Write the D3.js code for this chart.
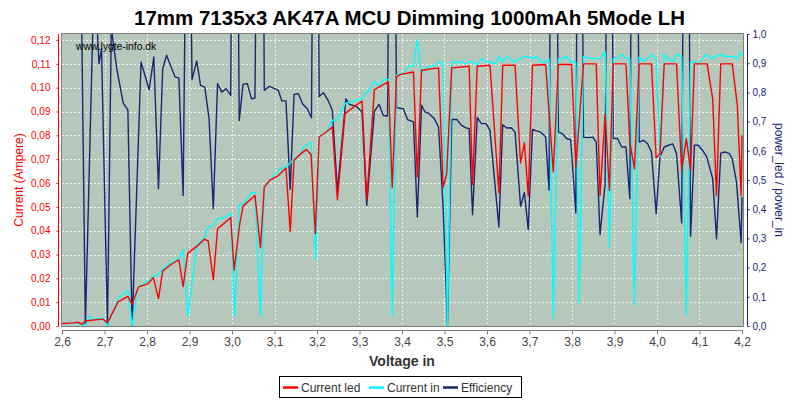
<!DOCTYPE html>
<html>
<head>
<meta charset="utf-8">
<script src="https://cdn.jsdelivr.net/npm/d3@7"></script>
<style>
  html, body { margin: 0; padding: 0; background: #ffffff; }
  svg { display: block; }
  text { font-family: "Liberation Sans", Arial, sans-serif; }
</style>
</head>
<body>
<svg id="chart" width="800" height="400"></svg>
<script>
// ---------------- data ----------------
const title = "17mm 7135x3 AK47A MCU Dimming 1000mAh 5Mode LH";
const xTicks = [2.6, 2.7, 2.8, 2.9, 3.0, 3.1, 3.2, 3.3, 3.4, 3.5, 3.6, 3.7, 3.8, 3.9, 4.0, 4.1, 4.2];
const leftTicks = [0, 0.01, 0.02, 0.03, 0.04, 0.05, 0.06, 0.07, 0.08, 0.09, 0.10, 0.11, 0.12];
const rightTicks = [0, 0.1, 0.2, 0.3, 0.4, 0.5, 0.6, 0.7, 0.8, 0.9, 1.0];
const seriesNames = ["Current led", "Current in", "Efficiency"];

// Current led (A)
const ledV = [
  2.600, 2.626, 2.638, 2.647, 2.655, 2.669, 2.696, 2.707, 2.732, 2.755,
  2.765, 2.780, 2.803, 2.815, 2.827, 2.837, 2.854, 2.875, 2.885, 2.896,
  2.917, 2.935, 2.944, 2.956, 2.966, 2.985, 2.997, 3.005, 3.018, 3.026,
  3.054, 3.067, 3.076, 3.089, 3.109, 3.127, 3.137, 3.146, 3.160, 3.175,
  3.186, 3.196, 3.205, 3.222, 3.236, 3.248, 3.266, 3.281, 3.306, 3.317,
  3.335, 3.368, 3.377, 3.387, 3.395, 3.427, 3.436, 3.446, 3.486, 3.497,
  3.505, 3.517, 3.558, 3.566, 3.577, 3.607, 3.628, 3.637, 3.666, 3.679,
  3.688, 3.697, 3.707, 3.738, 3.756, 3.768, 3.799, 3.809, 3.827, 3.857,
  3.866, 3.878, 3.888, 3.897, 3.927, 3.936, 3.947, 3.958, 3.987, 3.998,
  4.007, 4.017, 4.046, 4.058, 4.069, 4.079, 4.088, 4.118, 4.131, 4.140,
  4.150, 4.177, 4.189, 4.198, 4.200
];
const ledI = [
  0.0010, 0.0013, 0.0016, 0.0007, 0.0021, 0.0024, 0.0029, 0.0014, 0.0101, 0.0124,
  0.0091, 0.0164, 0.0178, 0.0203, 0.0115, 0.0231, 0.0255, 0.0278, 0.0166, 0.0306,
  0.0334, 0.0364, 0.0357, 0.0194, 0.0408, 0.0436, 0.0455, 0.0234, 0.0425, 0.0503,
  0.0548, 0.0329, 0.0583, 0.0611, 0.0631, 0.0663, 0.0397, 0.0695, 0.0720, 0.0741,
  0.0720, 0.0387, 0.0793, 0.0814, 0.0835, 0.0530, 0.0891, 0.0912, 0.0944, 0.0530,
  0.0992, 0.1024, 0.0580, 0.1045, 0.1055, 0.1066, 0.0625, 0.1073, 0.1083, 0.0583,
  0.0636, 0.1083, 0.1090, 0.0594, 0.1090, 0.1094, 0.0558, 0.1094, 0.1094, 0.0684,
  0.0769, 0.0545, 0.1094, 0.1097, 0.0646, 0.1097, 0.1097, 0.0667, 0.1100, 0.1100,
  0.0548, 0.0888, 0.0570, 0.1100, 0.1100, 0.0772, 0.0660, 0.1100, 0.1100, 0.0706,
  0.0723, 0.1100, 0.1100, 0.0653, 0.0786, 0.0653, 0.1100, 0.1100, 0.0953, 0.0548,
  0.1100, 0.1100, 0.0926, 0.0548, 0.0800
];

// Current in (A)
const inV = [
  2.600, 2.626, 2.647, 2.655, 2.665, 2.673, 2.696, 2.707, 2.732, 2.755,
  2.765, 2.778, 2.803, 2.815, 2.827, 2.837, 2.854, 2.875, 2.885, 2.896,
  2.917, 2.935, 2.944, 2.956, 2.966, 2.975, 2.985, 2.997, 3.006, 3.017,
  3.026, 3.046, 3.054, 3.067, 3.076, 3.089, 3.113, 3.127, 3.137, 3.146,
  3.160, 3.168, 3.186, 3.197, 3.205, 3.222, 3.236, 3.246, 3.266, 3.285,
  3.306, 3.317, 3.324, 3.335, 3.346, 3.356, 3.368, 3.377, 3.387, 3.403,
  3.415, 3.427, 3.436, 3.445, 3.454, 3.466, 3.476, 3.486, 3.496, 3.507,
  3.517, 3.540, 3.548, 3.558, 3.568, 3.577, 3.588, 3.598, 3.607, 3.619,
  3.628, 3.637, 3.646, 3.658, 3.666, 3.678, 3.688, 3.697, 3.707, 3.717,
  3.726, 3.738, 3.746, 3.756, 3.768, 3.777, 3.787, 3.797, 3.809, 3.817,
  3.827, 3.838, 3.849, 3.866, 3.878, 3.888, 3.897, 3.907, 3.917, 3.927,
  3.936, 3.947, 3.958, 3.968, 3.978, 3.987, 3.998, 4.007, 4.017, 4.027,
  4.037, 4.046, 4.058, 4.069, 4.079, 4.088, 4.097, 4.107, 4.117, 4.129,
  4.139, 4.150, 4.160, 4.170, 4.180, 4.189, 4.197, 4.200
];
const inI = [
  0.0010, 0.0013, 0.0007, 0.0002, 0.0042, 0.0028, 0.0035, 0.0000, 0.0115, 0.0150,
  0.0000, 0.0162, 0.0189, 0.0206, 0.0218, 0.0238, 0.0262, 0.0283, 0.0320, 0.0040,
  0.0340, 0.0370, 0.0416, 0.0423, 0.0451, 0.0451, 0.0458, 0.0472, 0.0040, 0.0509,
  0.0509, 0.0560, 0.0560, 0.0040, 0.0583, 0.0611, 0.0660, 0.0667, 0.0685, 0.0700,
  0.0720, 0.0751, 0.0770, 0.0276, 0.0793, 0.0814, 0.0863, 0.0863, 0.0933, 0.0944,
  0.0954, 0.0982, 0.0990, 0.1028, 0.1006, 0.1034, 0.1034, 0.0040, 0.1052, 0.1059,
  0.1090, 0.1090, 0.1201, 0.1059, 0.1080, 0.1090, 0.1090, 0.1108, 0.1105, 0.0000,
  0.1108, 0.1108, 0.1100, 0.1108, 0.1108, 0.1094, 0.1122, 0.1108, 0.1108, 0.1100,
  0.1131, 0.1108, 0.1131, 0.1117, 0.1108, 0.1122, 0.1131, 0.1129, 0.1122, 0.1131,
  0.1108, 0.1108, 0.1122, 0.0031, 0.1122, 0.1122, 0.1131, 0.1108, 0.1108, 0.0097,
  0.1131, 0.1126, 0.1122, 0.1122, 0.1150, 0.0329, 0.1122, 0.1122, 0.1140, 0.1122,
  0.1122, 0.0087, 0.1129, 0.1112, 0.1122, 0.1138, 0.1122, 0.0709, 0.1140, 0.1122,
  0.1108, 0.1140, 0.1131, 0.0045, 0.1108, 0.1108, 0.1100, 0.1122, 0.1140, 0.1122,
  0.1131, 0.1140, 0.1131, 0.1131, 0.1131, 0.1122, 0.1150, 0.1136
];

// Efficiency (power_led / power_in)
const effV = [
  2.600, 2.640, 2.655, 2.673, 2.680, 2.687, 2.693, 2.707, 2.716, 2.729,
  2.744, 2.755, 2.765, 2.786, 2.805, 2.816, 2.827, 2.837, 2.846, 2.866,
  2.875, 2.885, 2.896, 2.906, 2.917, 2.926, 2.936, 2.946, 2.956, 2.966,
  2.976, 2.986, 2.997, 3.006, 3.017, 3.026, 3.036, 3.046, 3.054, 3.067,
  3.076, 3.088, 3.109, 3.117, 3.127, 3.137, 3.146, 3.156, 3.166, 3.177,
  3.187, 3.197, 3.205, 3.215, 3.226, 3.236, 3.248, 3.268, 3.276, 3.293,
  3.306, 3.317, 3.335, 3.346, 3.356, 3.366, 3.377, 3.387, 3.403, 3.413,
  3.427, 3.436, 3.446, 3.454, 3.464, 3.476, 3.486, 3.497, 3.507, 3.517,
  3.529, 3.540, 3.550, 3.558, 3.566, 3.577, 3.587, 3.598, 3.607, 3.628,
  3.637, 3.646, 3.657, 3.666, 3.679, 3.688, 3.697, 3.707, 3.717, 3.726,
  3.738, 3.746, 3.756, 3.768, 3.777, 3.787, 3.797, 3.809, 3.817, 3.827,
  3.838, 3.849, 3.857, 3.866, 3.878, 3.888, 3.897, 3.907, 3.917, 3.927,
  3.936, 3.947, 3.958, 3.968, 3.978, 3.987, 3.998, 4.007, 4.017, 4.027,
  4.037, 4.046, 4.058, 4.069, 4.079, 4.088, 4.097, 4.107, 4.117, 4.131,
  4.140, 4.150, 4.160, 4.170, 4.177, 4.187, 4.198, 4.200
];
const effE = [
  3.000, 1.800, 0.000, 1.050, 1.100, 0.898, 0.950, 0.000, 1.020, 0.880,
  0.764, 0.739, 0.000, 0.904, 0.809, 0.921, 0.470, 0.881, 0.927, 0.853,
  0.849, 0.447, 2.000, 0.844, 0.908, 0.824, 0.818, 0.710, 0.402, 0.830,
  0.801, 0.813, 0.790, 3.000, 0.704, 0.828, 0.830, 0.778, 0.781, 3.000,
  0.807, 0.821, 0.807, 0.771, 0.771, 0.468, 0.793, 0.796, 0.761, 0.744,
  0.713, 3.000, 0.786, 0.799, 0.773, 0.739, 0.462, 0.778, 0.759, 0.752,
  0.733, 0.413, 0.735, 0.759, 0.721, 0.719, 3.000, 0.748, 0.744, 0.707,
  0.699, 0.373, 0.756, 0.733, 0.727, 0.710, 0.682, 0.400, 0.000, 0.707,
  0.707, 0.687, 0.679, 0.676, 0.381, 0.714, 0.693, 0.693, 0.670, 0.339,
  0.689, 0.678, 0.679, 0.664, 0.410, 0.457, 0.331, 0.673, 0.668, 0.664,
  0.647, 0.465, 3.000, 0.664, 0.659, 0.642, 0.638, 0.387, 3.000, 0.647,
  0.645, 0.647, 0.630, 0.314, 0.487, 3.000, 0.642, 0.642, 0.613, 0.613,
  0.436, 3.000, 0.630, 0.636, 0.624, 0.596, 0.385, 0.579, 0.613, 0.619,
  0.624, 0.590, 0.353, 3.000, 0.307, 0.619, 0.619, 0.602, 0.579, 0.505,
  0.299, 0.592, 0.596, 0.590, 0.573, 0.493, 0.285, 0.442
];

// ---------------- layout ----------------
const W = 800, H = 400;
const plot = { left: 62, right: 743, top: 34, bottom: 326 };
const colors = { led: "#ff0000", inp: "#00ffff", eff: "#1b2670", plotBg: "#b6c8bc" };

const svg = d3.select("#chart");
svg.append("rect").attr("width", W).attr("height", H).attr("fill", "#ffffff");

const x = d3.scaleLinear().domain([2.6, 4.2]).range([plot.left, plot.right - 1]);
const yL = d3.scaleLinear().domain([0, 0.12252]).range([plot.bottom, plot.top]);
const yR = d3.scaleLinear().domain([0, 1.0]).range([plot.bottom, plot.top]);

const fmtComma = (d, n) => d.toFixed(n).replace(".", ",");

// plot background
svg.append("rect")
  .attr("x", plot.left).attr("y", plot.top)
  .attr("width", plot.right - plot.left).attr("height", plot.bottom - plot.top)
  .attr("fill", colors.plotBg);

// grid lines
const grid = svg.append("g").attr("stroke", "#ffffff").attr("stroke-opacity", 0.75)
  .attr("stroke-width", 1).attr("stroke-dasharray", "2,2");
grid.selectAll("line.v").data(xTicks.slice(1, -1)).join("line")
  .attr("x1", d => Math.round(x(d)) + 0.5).attr("x2", d => Math.round(x(d)) + 0.5)
  .attr("y1", plot.top).attr("y2", plot.bottom);
grid.selectAll("line.h").data(leftTicks.slice(1)).join("line")
  .attr("x1", plot.left).attr("x2", plot.right)
  .attr("y1", d => Math.round(yL(d)) + 0.5).attr("y2", d => Math.round(yL(d)) + 0.5);

// clip
svg.append("clipPath").attr("id", "clip").append("rect")
  .attr("x", plot.left).attr("y", plot.top)
  .attr("width", plot.right - plot.left).attr("height", plot.bottom - plot.top);

const g = svg.append("g").attr("clip-path", "url(#clip)");
const lineL = d3.line().x(d => x(d[0])).y(d => yL(d[1]));
const lineR = d3.line().x(d => x(d[0])).y(d => yR(d[1]));

const effData = effV.map((v, i) => [v, effE[i]]);
const inData = inV.map((v, i) => [v, inI[i]]);
const ledData = ledV.map((v, i) => [v, ledI[i]]);

g.append("path").datum(effData).attr("d", lineR)
  .attr("fill", "none").attr("stroke", colors.eff).attr("stroke-width", 1.4).attr("stroke-linejoin", "round");
g.append("path").datum(inData).attr("d", lineL)
  .attr("fill", "none").attr("stroke", colors.inp).attr("stroke-width", 1.4).attr("stroke-linejoin", "round");
g.append("path").datum(ledData).attr("d", lineL)
  .attr("fill", "none").attr("stroke", colors.led).attr("stroke-width", 1.4).attr("stroke-linejoin", "round");

// plot frame
svg.append("rect")
  .attr("x", plot.left - 0.5).attr("y", plot.top - 0.5)
  .attr("width", plot.right - plot.left + 1).attr("height", plot.bottom - plot.top + 1)
  .attr("fill", "none").attr("stroke", "#7f7f7f").attr("stroke-width", 1);

// watermark
svg.append("text").attr("x", 76).attr("y", 50).attr("font-size", 10.3)
  .attr("fill", "#000000").text("www.lygte-info.dk");

// bottom axis
const xAxis = d3.axisBottom(x).tickValues(xTicks).tickSize(4).tickPadding(3)
  .tickFormat(d => fmtComma(d, 1));
const gx = svg.append("g").attr("transform", `translate(0,${plot.bottom + 4.5})`).call(xAxis);
gx.select(".domain").attr("stroke", "#808080").attr("d", `M${plot.left},0H${plot.right}`);
gx.selectAll(".tick line").attr("stroke", "#808080");
gx.selectAll("text").attr("fill", "#444444").attr("font-size", 12)
  .attr("font-family", "'Liberation Sans', Arial, sans-serif");

// left axis
const yAxisL = d3.axisLeft(yL).tickValues(leftTicks).tickSize(2).tickPadding(6)
  .tickFormat(d => fmtComma(d, 2));
const gyl = svg.append("g").attr("transform", `translate(${plot.left - 3.5},0)`).call(yAxisL);
gyl.select(".domain").attr("stroke", colors.led).attr("d", `M0,${plot.top}V${plot.bottom}`);
gyl.selectAll(".tick line").attr("stroke", colors.led);
gyl.selectAll("text").attr("fill", colors.led).attr("font-size", 10)
  .attr("font-family", "'Liberation Sans', Arial, sans-serif");

// right axis
const yAxisR = d3.axisRight(yR).tickValues(rightTicks).tickSize(2).tickPadding(3)
  .tickFormat(d => fmtComma(d, 1));
const gyr = svg.append("g").attr("transform", `translate(${plot.right + 4.5},0)`).call(yAxisR);
gyr.select(".domain").attr("stroke", colors.eff).attr("d", `M0,${plot.top}V${plot.bottom}`);
gyr.selectAll(".tick line").attr("stroke", colors.eff);
gyr.selectAll("text").attr("fill", colors.eff).attr("font-size", 10)
  .attr("font-family", "'Liberation Sans', Arial, sans-serif");

// titles
svg.append("text").attr("x", 409.5).attr("y", 25).attr("text-anchor", "middle")
  .attr("font-size", 20.5).attr("font-weight", "bold").attr("fill", "#000000").text(title);

svg.append("text").attr("x", 402).attr("y", 366).attr("text-anchor", "middle")
  .attr("font-size", 14).attr("font-weight", "bold").attr("fill", "#333333").text("Voltage in");

svg.append("text").attr("transform", "translate(23,180) rotate(-90)").attr("text-anchor", "middle")
  .attr("font-size", 12).attr("fill", colors.led).text("Current (Ampere)");

svg.append("text").attr("transform", "translate(775,180) rotate(90)").attr("text-anchor", "middle")
  .attr("font-size", 12).attr("fill", colors.eff).text("power_led / power_in");

// legend
const legend = svg.append("g");
legend.append("rect").attr("x", 279.5).attr("y", 376.5).attr("width", 242).attr("height", 21)
  .attr("fill", "#ffffff").attr("stroke", "#000000").attr("stroke-width", 1);
const legendItems = [
  { name: seriesNames[0], color: colors.led, x: 283 },
  { name: seriesNames[1], color: colors.inp, x: 369 },
  { name: seriesNames[2], color: colors.eff, x: 443 }
];
const li = legend.selectAll("g.item").data(legendItems).join("g").attr("class", "item");
li.append("line").attr("x1", d => d.x).attr("x2", d => d.x + 15)
  .attr("y1", 387.5).attr("y2", 387.5).attr("stroke", d => d.color).attr("stroke-width", 2.5);
li.append("text").attr("x", d => d.x + 18).attr("y", 392).attr("font-size", 12)
  .attr("fill", "#333333").text(d => d.name);
</script>
</body>
</html>
